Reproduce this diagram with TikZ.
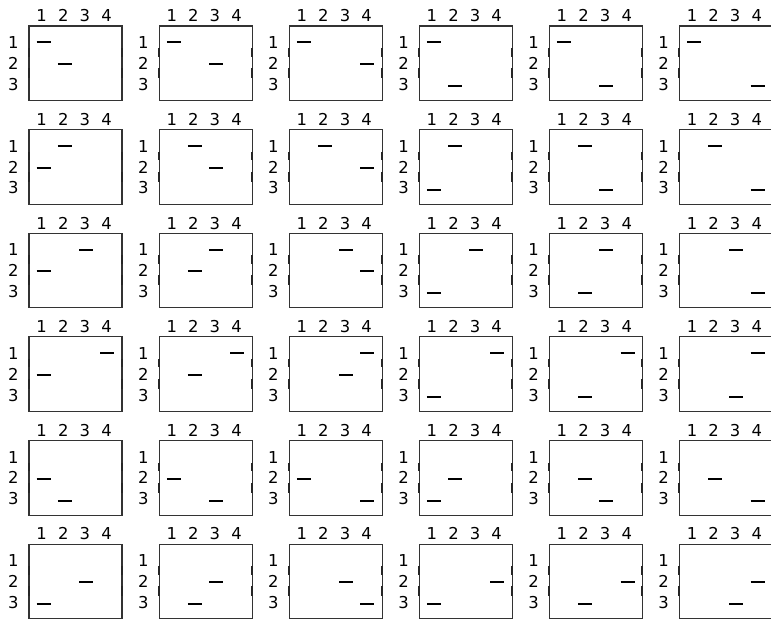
\documentclass[tikz,border=0pt]{standalone}
\usepackage{fontspec}
\setmainfont{DejaVu Sans}

\tikzset{
  lbl/.style={font=\fontsize{12.3}{14}\selectfont, inner sep=0pt},
  frame/.style={line width=0.8pt, black!80},
  pick/.style={line width=1.5pt},
  sidetick/.style={line width=1.3pt, black!85},
}

\begin{document}
\begin{tikzpicture}[x=0.75pt, y=-0.75pt]
  \useasboundingbox (0,0) rectangle (771,618);
  \clip (0,0) rectangle (771,618);

  % one panel per pair of picked cells: row/col of the first, row/col of the second
  \foreach \ra/\ca/\rb/\cb [count=\n from 0] in {
      1/1/2/2, 1/1/2/3, 1/1/2/4, 1/1/3/2, 1/1/3/3, 1/1/3/4,
      1/2/2/1, 1/2/2/3, 1/2/2/4, 1/2/3/1, 1/2/3/3, 1/2/3/4,
      1/3/2/1, 1/3/2/2, 1/3/2/4, 1/3/3/1, 1/3/3/2, 1/3/3/4,
      1/4/2/1, 1/4/2/2, 1/4/2/3, 1/4/3/1, 1/4/3/2, 1/4/3/3,
      2/1/3/2, 2/1/3/3, 2/1/3/4, 2/2/3/1, 2/2/3/3, 2/2/3/4,
      2/3/3/1, 2/3/3/2, 2/3/3/4, 2/4/3/1, 2/4/3/2, 2/4/3/3}{
    \pgfmathtruncatemacro{\pcol}{mod(\n,6)}
    \pgfmathtruncatemacro{\prow}{\n/6}
    \begin{scope}[shift={(29+130.06*\pcol, 26+103.65*\prow)}]
      \draw[frame] (0,0) rectangle (93,74.5);
      \draw[sidetick] (0,22) -- (0,30.5) (0,42) -- (0,52)
                      (93,22) -- (93,30.5) (93,42) -- (93,52);

      \foreach \c in {1,...,4}
        \node[lbl, anchor=base] (top\n-\c) at ({12.7+21.6*(\c-1)}, -4.3) {\c};
      \foreach \r in {1,2,3}
        \node[lbl] (side\n-\r) at (-15.7, {16.5+20.8*(\r-1)}) {\r};

      \coordinate (a\n) at ({14.7+21.2*(\ca-1)}, {16.3+21.8*(\ra-1)});
      \coordinate (b\n) at ({14.7+21.2*(\cb-1)}, {16.3+21.8*(\rb-1)});
      \draw[pick] ([xshift=-5.25pt]a\n) -- ([xshift=5.25pt]a\n);
      \draw[pick] ([xshift=-5.25pt]b\n) -- ([xshift=5.25pt]b\n);
    \end{scope}
  }
\end{tikzpicture}
\end{document}
